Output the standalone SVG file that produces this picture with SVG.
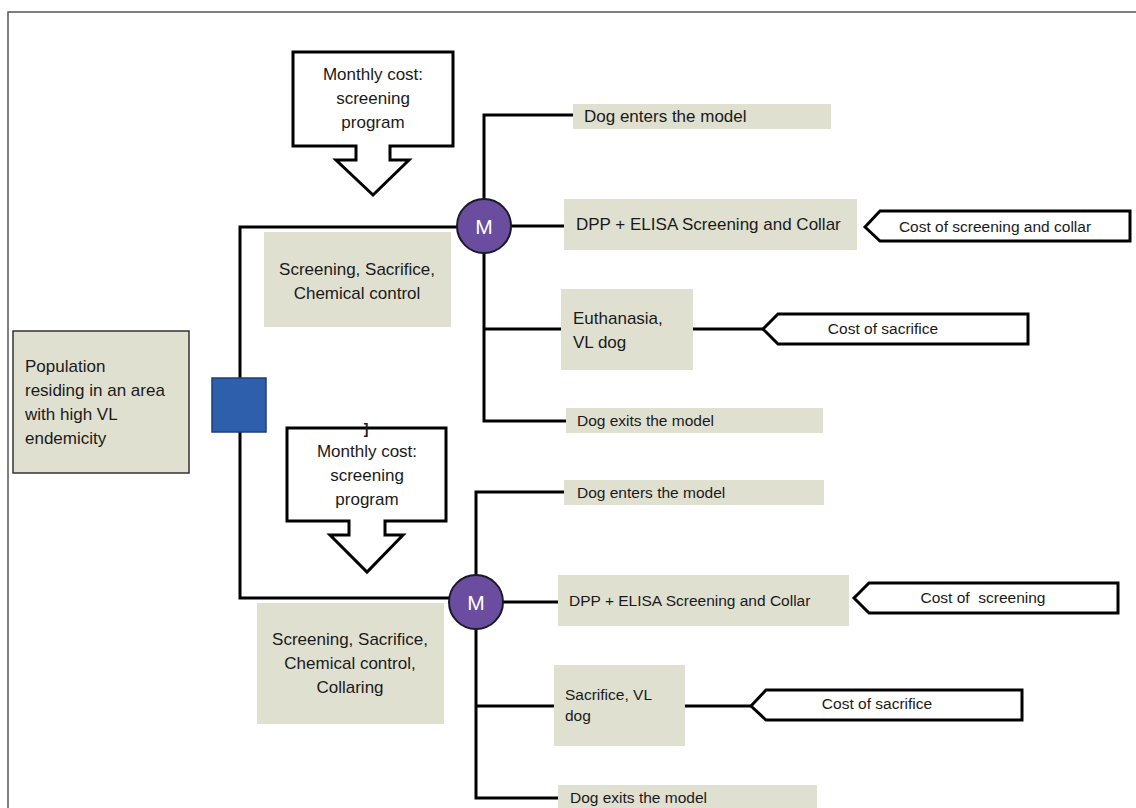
<svg xmlns="http://www.w3.org/2000/svg" width="1136" height="808" viewBox="0 0 1136 808">
<style>
.bg{fill:#ffffff}
.frame{fill:none;stroke:#555555;stroke-width:1.5}
.box{fill:#e0e0d1;stroke:none}
.pop{fill:#e0e0d1;stroke:#333333;stroke-width:1.5}
.call{fill:#ffffff;stroke:#000000;stroke-width:3;stroke-linejoin:miter}
.line{fill:none;stroke:#000000;stroke-width:3}
.m{fill:#6a4d9e;stroke:#1a1a2a;stroke-width:2}
.mt{font-family:"Liberation Sans",Arial,sans-serif;font-size:21px;fill:#ffffff;text-anchor:middle}
.t{font-family:"Liberation Sans",Arial,sans-serif;font-size:17px;fill:#1a1a1a}
.ts{font-family:"Liberation Sans",Arial,sans-serif;font-size:15.5px;fill:#1a1a1a}
.c{text-anchor:middle}
</style>
<rect class="bg" x="0" y="0" width="1136" height="808"/>
<rect class="frame" x="8" y="12" width="1140" height="820"/>

<g id="connectors">
  <polyline class="line" points="457,227 240,227 240,598 449,598"/>
  <polyline class="line" points="573,115 484,115 484,421 566,421"/>
  <line class="line" x1="511" y1="226" x2="564" y2="226"/>
  <line class="line" x1="484" y1="329" x2="561" y2="329"/>
  <line class="line" x1="693" y1="329" x2="763" y2="329"/>
  <polyline class="line" points="564,492 476,492 476,798 558,798"/>
  <line class="line" x1="503" y1="602" x2="558" y2="602"/>
  <line class="line" x1="476" y1="706" x2="554" y2="706"/>
  <line class="line" x1="685" y1="706" x2="751" y2="706"/>
</g>

<g id="population">
  <rect class="pop" x="13" y="331" width="176" height="142"/>
  <text class="t" x="25" y="372">Population</text>
  <text class="t" x="25" y="396">residing in an area</text>
  <text class="t" x="25" y="420">with high VL</text>
  <text class="t" x="25" y="444">endemicity</text>
</g>

<g id="decision">
  <rect x="212" y="378" width="54" height="54" fill="#2e5fad" stroke="#1f3f73" stroke-width="1.5"/>
</g>

<g id="callout1">
  <path class="call" d="M293,52 H453 V146 H390 V160 H409 L373,195 L336,160 H356 V146 H293 Z"/>
  <text class="t c" x="373" y="80">Monthly cost:</text>
  <text class="t c" x="373" y="104">screening</text>
  <text class="t c" x="373" y="128">program</text>
</g>

<g id="strategy1">
  <rect class="box" x="264" y="232" width="187" height="95"/>
  <text class="t c" x="357" y="275">Screening, Sacrifice,</text>
  <text class="t c" x="357" y="299">Chemical control</text>
</g>

<g id="markov1">
  <circle class="m" cx="484" cy="226" r="27"/>
  <text class="mt" x="484" y="234">M</text>
</g>

<g id="enter1">
  <rect class="box" x="573" y="104" width="258" height="25"/>
  <text class="t" x="584" y="122">Dog enters the model</text>
</g>

<g id="dpp1">
  <rect class="box" x="564" y="199" width="293" height="51"/>
  <text class="t" x="576" y="230">DPP + ELISA Screening and Collar</text>
</g>

<g id="cost1">
  <path class="call" d="M865,227 L880,211 H1130 V241 H880 Z"/>
  <text class="ts c" x="995" y="232">Cost of screening and collar</text>
</g>

<g id="euth1">
  <rect class="box" x="561" y="289" width="132" height="81"/>
  <text class="t" x="573" y="324">Euthanasia,</text>
  <text class="t" x="573" y="348">VL dog</text>
</g>

<g id="sac1">
  <path class="call" d="M763,329 L778,314 H1028 V344 H778 Z"/>
  <text class="ts c" x="883" y="334">Cost of sacrifice</text>
</g>

<g id="exit1">
  <rect class="box" x="566" y="408" width="257" height="25"/>
  <text class="ts" x="577" y="426">Dog exits the model</text>
</g>

<g id="callout2">
  <path class="call" d="M287,428 H446 V521 H385 V535 H403 L367,572 L330,535 H349 V521 H287 Z"/>
  <text x="366" y="434" font-family="Liberation Sans, Arial, sans-serif" font-size="14" font-weight="bold" fill="#1a1a1a" text-anchor="middle">]</text>
  <text class="t c" x="367" y="457">Monthly cost:</text>
  <text class="t c" x="367" y="481">screening</text>
  <text class="t c" x="367" y="505">program</text>
</g>

<g id="strategy2">
  <rect class="box" x="257" y="603" width="187" height="121"/>
  <text class="t c" x="350" y="645">Screening, Sacrifice,</text>
  <text class="t c" x="350" y="669">Chemical control,</text>
  <text class="t c" x="350" y="693">Collaring</text>
</g>

<g id="markov2">
  <circle class="m" cx="476" cy="602" r="27"/>
  <text class="mt" x="476" y="610">M</text>
</g>

<g id="enter2">
  <rect class="box" x="564" y="480" width="260" height="25"/>
  <text class="ts" x="577" y="498">Dog enters the model</text>
</g>

<g id="dpp2">
  <rect class="box" x="558" y="575" width="291" height="51"/>
  <text class="ts" x="569" y="606">DPP + ELISA Screening and Collar</text>
</g>

<g id="cost2">
  <path class="call" d="M854,598 L869,583 H1118 V613 H869 Z"/>
  <text class="ts c" x="983" y="603" xml:space="preserve">Cost of  screening</text>
</g>

<g id="sac2box">
  <rect class="box" x="554" y="665" width="131" height="81"/>
  <text class="ts" x="565" y="700">Sacrifice, VL</text>
  <text class="ts" x="565" y="721">dog</text>
</g>

<g id="sac2">
  <path class="call" d="M751,706 L766,690 H1022 V720 H766 Z"/>
  <text class="ts c" x="877" y="709">Cost of sacrifice</text>
</g>

<g id="exit2">
  <rect class="box" x="558" y="785" width="259" height="30"/>
  <text class="ts" x="570" y="803">Dog exits the model</text>
</g>
</svg>
